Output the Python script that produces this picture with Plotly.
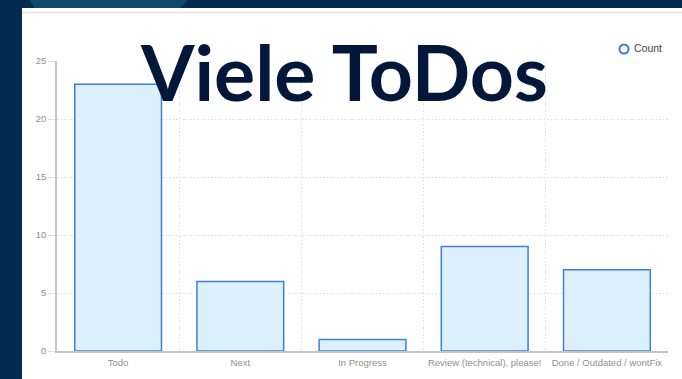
import plotly.graph_objects as go

# Task counts per workflow state
categories = ["Todo", "Next", "In Progress", "Review (technical), please!", "Done / Outdated / wontFix"]
counts = [23, 6, 1, 9, 7]
y_ticks = [0, 5, 10, 15, 20, 25]
series_name = "Count"
title_text = "Viele ToDos"

NAVY = "#042b51"
TEAL = "#0d4a6c"
GRID = "#e0e0e0"
AXIS = "#c4c4c8"
LABEL = "#8f8f8f"
DOTS = "1.5px,2px"
BAR_FILL = "#dcf1fd"
BAR_LINE = "#3d7fdc"

# plot-area geometry in pixels (682 x 379 page)
W, H = 682, 379
L, R, T, B = 57, 14, 61, 28
pw, ph = W - L - R, H - T - B


def px(x):
    return (x - L) / pw


def py(y):
    return (H - B - y) / ph


fig = go.Figure()

fig.add_trace(go.Bar(
    x=categories, y=counts, width=0.71, name=series_name,
    marker=dict(color=BAR_FILL, line=dict(color=BAR_LINE, width=1.5)),
    showlegend=False, hoverinfo="x+y",
))

# overlay axis carrying the category boundary gridlines
fig.add_trace(go.Scatter(x=[None], y=[None], xaxis="x2", showlegend=False))

fig.update_layout(
    width=W, height=H,
    margin=dict(l=L, r=R, t=T, b=B, autoexpand=False),
    paper_bgcolor=NAVY,
    plot_bgcolor="rgba(0,0,0,0)",
    showlegend=False,
    font=dict(family="Liberation Sans, Arial, sans-serif", size=10, color=LABEL),
    xaxis=dict(
        type="category", range=[-0.5, 4.5], showgrid=False,
        showline=True, linecolor=AXIS, linewidth=1.5,
        ticks="", ticklabelstandoff=2,
        tickfont=dict(size=9.5, color=LABEL), fixedrange=True,
    ),
    xaxis2=dict(
        overlaying="x", range=[-0.5, 4.5], tickvals=[0.5, 1.5, 2.5, 3.5],
        showgrid=True, gridcolor=GRID, griddash=DOTS, gridwidth=1,
        showticklabels=False, ticks="", zeroline=False, showline=False,
    ),
    yaxis=dict(
        range=[0, 25], tickvals=y_ticks, showgrid=True, gridcolor=GRID,
        griddash=DOTS, gridwidth=1, zeroline=False,
        showline=True, linecolor=AXIS, linewidth=1.5,
        ticks="outside", ticklen=7, tickcolor=GRID,
        tickfont=dict(size=9.5, color=LABEL), fixedrange=True,
    ),
    shapes=[
        # white card behind the chart
        dict(type="rect", xref="paper", yref="paper",
             x0=px(22), x1=px(W + 2), y0=py(8), y1=py(H + 2),
             fillcolor="white", line=dict(width=0), layer="below"),
        # thin header rule
        dict(type="line", xref="paper", yref="paper",
             x0=px(22), x1=px(W + 2), y0=py(12.5), y1=py(12.5),
             line=dict(color="#e2e2e4", width=1.5), layer="below"),
        # teal accent in the top banner
        dict(type="path", xref="paper", yref="paper",
             path=f"M {px(30)},{py(0)} L {px(188)},{py(0)} L {px(180)},{py(8)} L {px(34)},{py(8)} Z",
             fillcolor=TEAL, line=dict(width=0), layer="below"),
        # series key: open circle
        dict(type="circle", xref="paper", yref="paper",
             x0=px(619.5), x1=px(628.5), y0=py(53.5), y1=py(44.5),
             fillcolor="white", line=dict(color="#2f7be0", width=2)),
    ],
    annotations=[
        dict(text=f"<b>{title_text}</b>", xref="paper", yref="paper",
             x=px(344), y=py(70.5), xanchor="center", yanchor="middle",
             showarrow=False,
             font=dict(family="Lato", size=77, color="#03173a")),
        dict(text=series_name, xref="paper", yref="paper",
             x=px(632), y=py(48.5), xanchor="left", yanchor="middle",
             showarrow=False,
             font=dict(family="Liberation Sans, Arial, sans-serif", size=10.5, color="#444444")),
    ],
)

fig.write_html("out.html")
